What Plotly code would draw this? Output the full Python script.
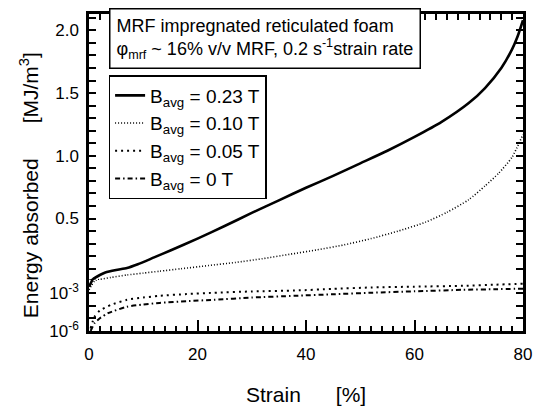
import plotly.graph_objects as go

# ---------------- data ----------------
strain_023 = [0, 0.5, 1, 2, 3, 5, 7, 9, 12, 15, 20, 25, 30, 35, 40, 45, 50, 55, 60, 65, 70, 73, 76, 78, 79, 80]
energy_023 = [0.003, 0.008, 0.025, 0.05, 0.07, 0.09, 0.105, 0.135, 0.19, 0.245, 0.34, 0.44, 0.545, 0.645,
              0.745, 0.84, 0.94, 1.04, 1.15, 1.27, 1.42, 1.54, 1.70, 1.85, 1.95, 2.08]

strain_010 = [0, 0.5, 1, 2, 4, 7, 10, 13, 17, 22, 27, 32, 37, 42, 47, 52, 57, 62, 66, 70, 73, 75.5, 78, 80]
energy_010 = [0.0017, 0.004, 0.008, 0.015, 0.03, 0.05, 0.065, 0.08, 0.10, 0.125, 0.15, 0.18, 0.215,
              0.25, 0.29, 0.34, 0.40, 0.47, 0.55, 0.65, 0.76, 0.86, 0.99, 1.17]

strain_005 = [0.3, 1, 2, 4, 7, 10, 13, 18, 23, 30, 38, 45, 52, 60, 69, 75, 80]
energy_005 = [1.6e-6, 1.3e-5, 4e-5, 1.1e-4, 2.8e-4, 4.2e-4, 5.8e-4, 7.9e-4, 1.0e-3, 1.26e-3,
              1.5e-3, 2.0e-3, 2.6e-3, 3.0e-3, 3.5e-3, 4.3e-3, 5.1e-3]

strain_000 = [0.3, 1, 2, 3.5, 7, 10, 13, 18, 23, 30, 38, 45, 52, 60, 69, 75, 80]
energy_000 = [1.0e-6, 4e-6, 1e-5, 2.5e-5, 7.9e-5, 1.2e-4, 1.6e-4, 2.2e-4, 2.8e-4, 4.2e-4,
              5.8e-4, 7.6e-4, 1.0e-3, 1.3e-3, 1.7e-3, 1.9e-3, 2.1e-3]

series_names = ["B<sub>avg</sub> = 0.23 T", "B<sub>avg</sub> = 0.10 T",
                "B<sub>avg</sub> = 0.05 T", "B<sub>avg</sub> = 0 T"]

x_tick_vals = [0, 20, 40, 60, 80]
lin_tick_vals = [round(0.1 * i, 1) for i in range(1, 22)]
lin_tick_text = [f"{v:.1f}" if abs(v * 2 - round(v * 2)) < 1e-9 else "" for v in lin_tick_vals]
log_tick_vals = [1e-6, 1e-5, 1e-4, 1e-3, 1e-2]
log_tick_text = ["10<sup>-6</sup>", "", "", "10<sup>-3</sup>", ""]

# ---------------- figure ----------------
FONT = "Liberation Sans, Arial, sans-serif"
W, H = 542, 406
L, R, T, B = 89, 10, 14, 75
plot_w = W - L - R
plot_h = H - T - B
split = (331 - 280) / plot_h  # lower (log) part fraction

styles = [
    dict(color="black", width=2.6, dash="solid"),
    dict(color="black", width=1.6, dash="1px,2px"),
    dict(color="black", width=2.0, dash="2px,4px"),
    dict(color="black", width=2.0, dash="5px,3px,1.5px,3px"),
]
series = [(strain_023, energy_023), (strain_010, energy_010),
          (strain_005, energy_005), (strain_000, energy_000)]

fig = go.Figure()
# upper (linear) panel: the two curves that reach it
for i in (0, 1):
    sx, sy = series[i]
    fig.add_trace(go.Scatter(x=sx, y=sy, mode="lines", name=series_names[i],
                             line=dict(**styles[i], shape="spline", smoothing=0.6),
                             xaxis="x2", yaxis="y", showlegend=True))
# lower (log) panel
for i in (2, 3, 0, 1):
    sx, sy = series[i]
    fig.add_trace(go.Scatter(x=sx, y=sy, mode="lines", name=series_names[i],
                             line=dict(**styles[i], shape="spline", smoothing=0.6),
                             xaxis="x", yaxis="y2", showlegend=i in (2, 3)))

axis_common = dict(showline=True, linecolor="black", linewidth=2.5, ticks="inside",
                   tickcolor="black", tickwidth=1.5, showgrid=False, zeroline=False,
                   tickfont=dict(family=FONT, size=17, color="black"))

fig.update_layout(
    width=W, height=H,
    margin=dict(l=L, r=R, t=T, b=B),
    paper_bgcolor="white", plot_bgcolor="white",
    showlegend=True,
    xaxis=dict(**axis_common, domain=[0, 1], range=[0, 80], anchor="y2",
               tickvals=x_tick_vals, ticklen=11, ticklabelstandoff=6,
               minor=dict(dtick=2, ticklen=5, ticks="inside", tickcolor="black", tickwidth=1.5)),
    xaxis2=dict(**axis_common, domain=[0, 1], range=[0, 80], anchor="y", side="top",
                matches="x", dtick=2, ticklen=6, showticklabels=False),
    yaxis=dict(**axis_common, domain=[split, 1], range=[0.01, 2.13], anchor="x2",
               mirror="ticks", tickvals=lin_tick_vals, ticktext=lin_tick_text, ticklen=7,
               ticklabelstandoff=4),
    yaxis2=dict(**axis_common, domain=[0, split], type="log", range=[-6, -2], anchor="x",
                mirror="ticks", tickvals=log_tick_vals, ticktext=log_tick_text, ticklen=7,
                ticklabelstandoff=4),
    legend=dict(x=(109 - L) / plot_w, y=(331 - 75) / plot_h, xanchor="left", yanchor="top",
                bgcolor="white", bordercolor="black", borderwidth=1.5,
                font=dict(family=FONT, size=19, color="black"),
                tracegroupgap=0, itemwidth=30),
)

fig.add_annotation(
    xref="paper", yref="paper", x=(109 - L) / plot_w, y=(331 - 8) / plot_h,
    xanchor="left", yanchor="top", align="left", showarrow=False,
    text="MRF impregnated reticulated foam<br>φ<sub>mrf</sub> ~ 16% v/v MRF, 0.2 s<sup>-1</sup>strain rate",
    font=dict(family=FONT, size=18, color="black"),
    bordercolor="black", borderwidth=1.5, borderpad=6, bgcolor="white",
)

fig.add_annotation(
    xref="paper", yref="paper", x=(28 - L) / plot_w, y=(331 - 185) / plot_h,
    xanchor="center", yanchor="middle", showarrow=False, textangle=-90,
    text="Energy absorbed      [MJ/m<sup>3</sup>]",
    font=dict(family=FONT, size=21, color="black"),
)

fig.add_annotation(
    xref="paper", yref="paper", x=(310 - L) / plot_w, y=(331 - 394) / plot_h,
    xanchor="center", yanchor="middle", showarrow=False,
    text="Strain      [%]",
    font=dict(family=FONT, size=21, color="black"),
)

fig.write_html("out.html")
